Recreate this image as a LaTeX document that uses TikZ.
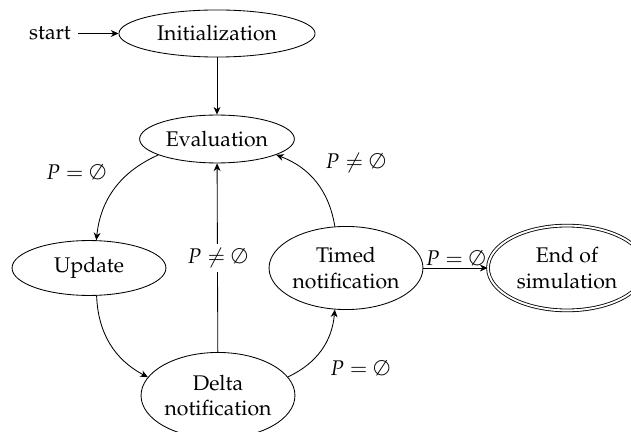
\documentclass[tikz,border=0pt]{standalone}
\usepackage[T1]{fontenc}
\usepackage{mathpazo}
\usetikzlibrary{shapes.geometric,arrows.meta}
\begin{document}
\begin{tikzpicture}[x=0.4717pt,y=-0.4717pt,
  st/.style={ellipse,draw,inner sep=0pt,align=center},
  fin/.style={st,double,double distance=0.9pt},
  >={Stealth[length=3.6pt,width=3.2pt,inset=1.1pt]}]
\useasboundingbox (0,0) rectangle (631,432);
\node[st,minimum width=92.5pt,minimum height=22.2pt] (init) at (217,33.5) {Initialization};
\node[st,minimum width=73pt,minimum height=22.6pt] (eval) at (217,139) {Evaluation};
\node[st,minimum width=72.6pt,minimum height=25.9pt] (upd) at (89,268) {Update};
\node[st,minimum width=72.6pt,minimum height=40.6pt] (delta) at (218,395.5) {Delta\\notification};
\node[st,minimum width=72.6pt,minimum height=39.2pt] (timed) at (346,268) {Timed\\notification};
\node[fin,minimum width=74.5pt,minimum height=40pt] (end) at (567,268) {End of\\simulation};
\node (start) at (50,33.5) {start};
\draw[->] (start) -- (init);
\draw[->] (init) -- (eval);
\draw[->] (eval) to[bend right=30] (upd);
\draw[->] (upd) to[bend right=30] (delta);
\draw[->] (delta) to[bend right=30] (timed);
\draw[->] (timed) to[bend right=30] (eval);
\draw[->] (delta) -- node[fill=white,inner sep=2pt] (lmid) {$P\neq\emptyset$} (eval);
\draw[->] (timed) -- node[above,inner sep=1pt] (lend) {$P=\emptyset$} (end);
\node (lul) at (76,172) {$P=\emptyset$};
\node (lur) at (355.5,163) {$P\neq\emptyset$};
\node (llr) at (360,368) {$P=\emptyset$};
\end{tikzpicture}
\end{document}
